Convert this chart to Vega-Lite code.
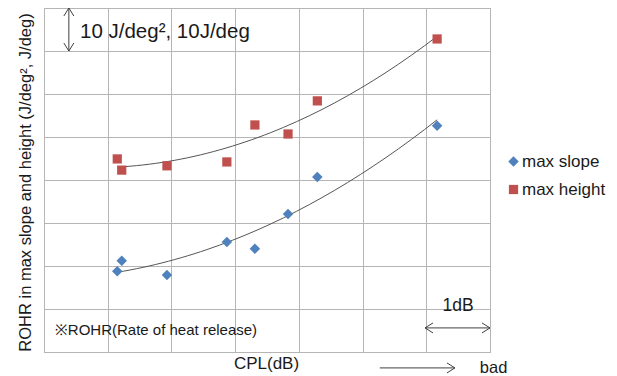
{
  "$schema": "https://vega.github.io/schema/vega-lite/v6.json",
  "width": 446,
  "height": 344,
  "autosize": {"type": "none"},
  "padding": {"left": 44, "top": 8, "right": 127, "bottom": 24},
  "background": "white",
  "config": {
    "font": "Liberation Sans",
    "view": {"stroke": "#b5b5b5", "strokeWidth": 1},
    "axis": {"gridColor": "#b5b5b5", "gridWidth": 1, "gridOpacity": 1, "labels": false, "ticks": false, "domain": false, "titleFont": "Liberation Sans", "titleFontWeight": "normal", "titleColor": "#1a1a1a"}
  },
  "datasets": {
    "pts": [
      {"series": "max height", "cpl": 1.15, "rohr": 44.9},
      {"series": "max height", "cpl": 1.22, "rohr": 42.3},
      {"series": "max height", "cpl": 1.93, "rohr": 43.3},
      {"series": "max height", "cpl": 2.87, "rohr": 44.2},
      {"series": "max height", "cpl": 3.31, "rohr": 52.8},
      {"series": "max height", "cpl": 3.83, "rohr": 50.7},
      {"series": "max height", "cpl": 4.29, "rohr": 58.4},
      {"series": "max height", "cpl": 6.17, "rohr": 72.8},
      {"series": "max slope", "cpl": 1.15, "rohr": 18.8},
      {"series": "max slope", "cpl": 1.22, "rohr": 21.2},
      {"series": "max slope", "cpl": 1.93, "rohr": 17.9},
      {"series": "max slope", "cpl": 2.87, "rohr": 25.6},
      {"series": "max slope", "cpl": 3.31, "rohr": 24.0},
      {"series": "max slope", "cpl": 3.83, "rohr": 32.1},
      {"series": "max slope", "cpl": 4.29, "rohr": 40.7},
      {"series": "max slope", "cpl": 6.17, "rohr": 52.6}
    ],
    "rules": [
      {"name": "scale", "cpl": 0.39, "cpl2": 0.39, "rohr": 70, "rohr2": 80},
      {"name": "1dB", "cpl": 5.98, "cpl2": 7, "rohr": 5.6, "rohr2": 5.6},
      {"name": "bad", "cpl": 5.27, "cpl2": 6.45, "rohr": -3.7, "rohr2": -3.7}
    ],
    "headsRight": [
      {"cpl": 7, "rohr": 5.6},
      {"cpl": 6.45, "rohr": -3.7}
    ],
    "headsLeft": [
      {"cpl": 5.98, "rohr": 5.6}
    ],
    "headsUp": [
      {"cpl": 0.39, "rohr": 80}
    ],
    "headsDown": [
      {"cpl": 0.39, "rohr": 70}
    ]
  },
  "encoding": {
    "x": {"field": "cpl", "type": "quantitative", "scale": {"domain": [0, 7], "nice": false, "zero": false},
      "axis": {"values": [0, 1, 2, 3, 4, 5, 6, 7], "title": "CPL(dB)", "titleFontSize": 17, "titleX": 222, "titleY": 11, "titleBaseline": "middle", "titleAnchor": "middle"}},
    "y": {"field": "rohr", "type": "quantitative", "scale": {"domain": [0, 80], "nice": false, "zero": false},
      "axis": {"values": [0, 10, 20, 30, 40, 50, 60, 70, 80], "title": "ROHR in max slope and height (J/deg², J/deg)", "titleFontSize": 16.5, "titleX": -19, "titleY": 174, "titleBaseline": "middle", "titleAngle": -90, "titleAnchor": "middle"}}
  },
  "layer": [
    {
      "data": {"name": "pts"},
      "transform": [{"regression": "rohr", "on": "cpl", "groupby": ["series"], "method": "poly", "order": 2}],
      "mark": {"type": "line", "color": "#555555", "strokeWidth": 1},
      "encoding": {"detail": {"field": "series"}}
    },
    {
      "data": {"name": "pts"},
      "mark": {"type": "point", "filled": true, "opacity": 1, "strokeWidth": 0},
      "encoding": {
        "color": {"field": "series", "type": "nominal", "scale": {"domain": ["max slope", "max height"], "range": ["#4f81bd", "#c0504d"]},
          "legend": {"orient": "none", "legendX": 461, "legendY": 145, "title": null, "labelFontSize": 17, "labelFont": "Liberation Sans", "labelColor": "#1a1a1a", "symbolSize": 75, "rowPadding": 10, "labelOffset": 0, "padding": 0, "symbolStrokeWidth": 0}},
        "shape": {"field": "series", "type": "nominal", "scale": {"domain": ["max slope", "max height"], "range": ["diamond", "square"]}},
        "size": {"field": "series", "type": "nominal", "scale": {"domain": ["max slope", "max height"], "range": [110, 85]}, "legend": null}
      }
    },
    {
      "data": {"name": "rules"},
      "mark": {"type": "rule", "color": "#404040", "strokeWidth": 1},
      "encoding": {
        "x2": {"field": "cpl2"},
        "y2": {"field": "rohr2"}
      }
    },
    {
      "data": {"name": "headsRight"},
      "mark": {"type": "point", "shape": "M-1.6,-1L0,0L-1.6,1", "filled": false, "color": "#404040", "strokeWidth": 1, "size": 100, "opacity": 1, "angle": 0}
    },
    {
      "data": {"name": "headsLeft"},
      "mark": {"type": "point", "shape": "M-1.6,-1L0,0L-1.6,1", "filled": false, "color": "#404040", "strokeWidth": 1, "size": 100, "opacity": 1, "angle": 180}
    },
    {
      "data": {"name": "headsUp"},
      "mark": {"type": "point", "shape": "M-1.6,-1L0,0L-1.6,1", "filled": false, "color": "#404040", "strokeWidth": 1, "size": 100, "opacity": 1, "angle": 270}
    },
    {
      "data": {"name": "headsDown"},
      "mark": {"type": "point", "shape": "M-1.6,-1L0,0L-1.6,1", "filled": false, "color": "#404040", "strokeWidth": 1, "size": 100, "opacity": 1, "angle": 90}
    },
    {
      "data": {"values": [{"label": "10 J/deg², 10J/deg", "cpl": 0.565, "rohr": 74.4}]},
      "mark": {"type": "text", "align": "left", "baseline": "middle", "fontSize": 20.5, "color": "#1a1a1a"},
      "encoding": {"text": {"field": "label"}}
    },
    {
      "data": {"values": [{"label": "※ROHR(Rate of heat release)", "cpl": 0.17, "rohr": 5.1}]},
      "mark": {"type": "text", "align": "left", "baseline": "middle", "fontSize": 15, "color": "#1a1a1a"},
      "encoding": {"text": {"field": "label"}}
    },
    {
      "data": {"values": [{"label": "1dB", "cpl": 6.5, "rohr": 10.6}]},
      "mark": {"type": "text", "align": "center", "baseline": "middle", "fontSize": 17.5, "color": "#1a1a1a"},
      "encoding": {"text": {"field": "label"}}
    },
    {
      "data": {"values": [{"label": "bad", "cpl": 6.84, "rohr": -3.7}]},
      "mark": {"type": "text", "align": "left", "baseline": "middle", "fontSize": 16.5, "color": "#1a1a1a"},
      "encoding": {"text": {"field": "label"}}
    }
  ]
}
